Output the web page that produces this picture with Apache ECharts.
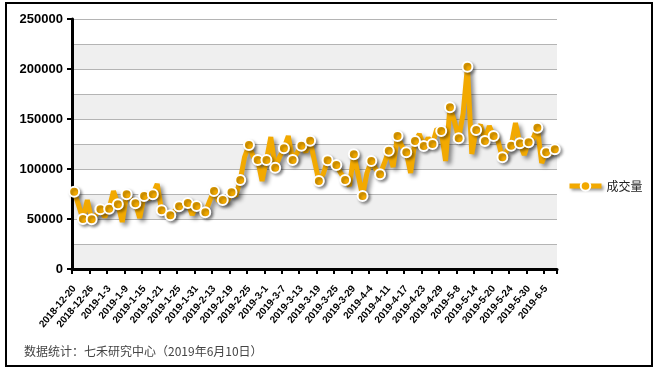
<!DOCTYPE html>
<html>
<head>
<meta charset="utf-8">
<script src="https://cdn.jsdelivr.net/npm/echarts@6/dist/echarts.min.js"></script>
<style>
html,body{margin:0;padding:0;background:#fff;}
#chart{width:661px;height:371px;}
</style>
</head>
<body>
<div id="chart"></div>
<script>
const categories = [
'2018-12-20','2018-12-21','2018-12-24','2018-12-25','2018-12-26','2018-12-27','2018-12-28',
'2019-1-2','2019-1-3','2019-1-4','2019-1-7','2019-1-8','2019-1-9','2019-1-10','2019-1-11','2019-1-14','2019-1-15','2019-1-16','2019-1-17','2019-1-18','2019-1-21','2019-1-22','2019-1-23','2019-1-24','2019-1-25','2019-1-28','2019-1-29','2019-1-30','2019-1-31',
'2019-2-1','2019-2-11','2019-2-12','2019-2-13','2019-2-14','2019-2-15','2019-2-18','2019-2-19','2019-2-20','2019-2-21','2019-2-22','2019-2-25','2019-2-26','2019-2-27','2019-2-28',
'2019-3-1','2019-3-4','2019-3-5','2019-3-6','2019-3-7','2019-3-8','2019-3-11','2019-3-12','2019-3-13','2019-3-14','2019-3-15','2019-3-18','2019-3-19','2019-3-20','2019-3-21','2019-3-22','2019-3-25','2019-3-26','2019-3-27','2019-3-28','2019-3-29',
'2019-4-1','2019-4-2','2019-4-3','2019-4-4','2019-4-8','2019-4-9','2019-4-10','2019-4-11','2019-4-12','2019-4-15','2019-4-16','2019-4-17','2019-4-18','2019-4-19','2019-4-22','2019-4-23','2019-4-24','2019-4-25','2019-4-26','2019-4-29','2019-4-30',
'2019-5-6','2019-5-7','2019-5-8','2019-5-9','2019-5-10','2019-5-13','2019-5-14','2019-5-15','2019-5-16','2019-5-17','2019-5-20','2019-5-21','2019-5-22','2019-5-23','2019-5-24','2019-5-27','2019-5-28','2019-5-29','2019-5-30','2019-5-31',
'2019-6-3','2019-6-4','2019-6-5','2019-6-6','2019-6-10'
];
const volume = [
77300,64000,50000,69000,49700,54000,59700,52000,60300,78000,
64700,47000,74700,70000,65700,51000,73000,70000,74700,85000,
58700,57000,53700,58000,62700,64000,66000,54000,63000,60000,
56700,68000,78000,68000,69000,67000,76700,73000,89000,112000,
124000,112000,109000,88000,109000,132000,101300,112000,120700,133000,
109000,116000,123300,117000,128300,108000,88000,95000,108700,106000,
104000,96000,89000,83000,114700,94000,73000,96000,108000,100000,
94700,106000,118300,102000,133000,123000,116700,96000,128000,135000,
123000,131000,125000,140000,138000,108000,161700,148000,130700,155000,
202300,115000,139000,144000,128000,143000,133000,128000,111700,118000,
123300,146000,125700,114000,126700,130000,141300,106000,116700,115000,
119700
];
const seriesName = '成交量';
const yTicks = [0, 50000, 100000, 150000, 200000, 250000];
const footnote = '数据统计：七禾研究中心（2019年6月10日）';

const ORANGE = '#F2A900';
const chart = echarts.init(document.getElementById('chart'), null, {renderer: 'canvas'});
const seriesData = volume.map((v, i) => i % 2 === 0 ? {value: v} : {value: v, symbol: 'none'});

chart.setOption({
  backgroundColor: '#ffffff',
  animation: false,
  textStyle: {fontFamily: 'Liberation Sans, Arial, sans-serif'},
  grid: {left: 72, top: 19, right: 104, bottom: 102, containLabel: false},
  legend: {
    show: true,
    left: 567, top: 180,
    padding: 0,
    itemWidth: 32, itemHeight: 12,
    itemGap: 6,
    lineStyle: {width: 5, shadowColor: 'rgba(0,0,0,0.4)', shadowBlur: 3, shadowOffsetX: 2, shadowOffsetY: 2},
    itemStyle: {borderWidth: 2, borderColor: '#fff'},
    textStyle: {fontSize: 12, color: '#222', fontFamily: 'Noto Sans CJK SC'},
    data: [seriesName]
  },
  xAxis: {
    type: 'category',
    data: categories,
    boundaryGap: true,
    axisLine: {lineStyle: {color: '#000', width: 3}},
    axisTick: {show: true, interval: 3, length: 5, lineStyle: {color: '#000', width: 2}},
    axisLabel: {interval: 3, rotate: 50, fontSize: 10, fontWeight: 'bold', color: '#000', margin: 18,
      fontFamily: 'Liberation Sans'},
    splitLine: {show: false}
  },
  yAxis: [{
    type: 'value', min: 0, max: 250000, interval: 50000,
    axisLine: {show: true, lineStyle: {color: '#000', width: 3}},
    axisTick: {show: true, length: 5, lineStyle: {color: '#000', width: 2}},
    axisLabel: {fontSize: 13, fontWeight: 'bold', color: '#000', margin: 9, fontFamily: 'Liberation Sans',
      formatter: v => yTicks.includes(v) ? String(v) : ''},
    splitLine: {show: false}
  }, {
    type: 'value', min: 0, max: 250000, interval: 25000, position: 'left',
    axisLine: {show: false}, axisTick: {show: false}, axisLabel: {show: false},
    splitLine: {show: true, lineStyle: {color: '#B4B4B4', width: 1}},
    splitArea: {show: true, areaStyle: {color: ['#EFEFEF', '#FFFFFF']}},
    z: 0
  }],
  series: [{
    name: seriesName,
    type: 'line',
    yAxisIndex: 0,
    data: seriesData,
    symbol: 'circle',
    symbolSize: 10,
    showAllSymbol: true,
    lineStyle: {color: ORANGE, width: 5, shadowColor: 'rgba(0,0,0,0.45)', shadowBlur: 4, shadowOffsetX: 3, shadowOffsetY: 3},
    itemStyle: {color: ORANGE, borderColor: '#fff', borderWidth: 2, shadowColor: 'rgba(0,0,0,0.35)', shadowBlur: 3, shadowOffsetX: 2, shadowOffsetY: 2},
    z: 3
  }],
  graphic: [{
    type: 'rect', silent: true,
    shape: {x: 6, y: 3, width: 646, height: 363},
    style: {fill: 'none', stroke: '#000', lineWidth: 2}
  }, {
    type: 'text', left: 24, top: 345, silent: true,
    style: {text: footnote, fontSize: 12, fill: '#444', fontFamily: 'Noto Sans CJK SC'}
  }]
});
</script>
</body>
</html>
